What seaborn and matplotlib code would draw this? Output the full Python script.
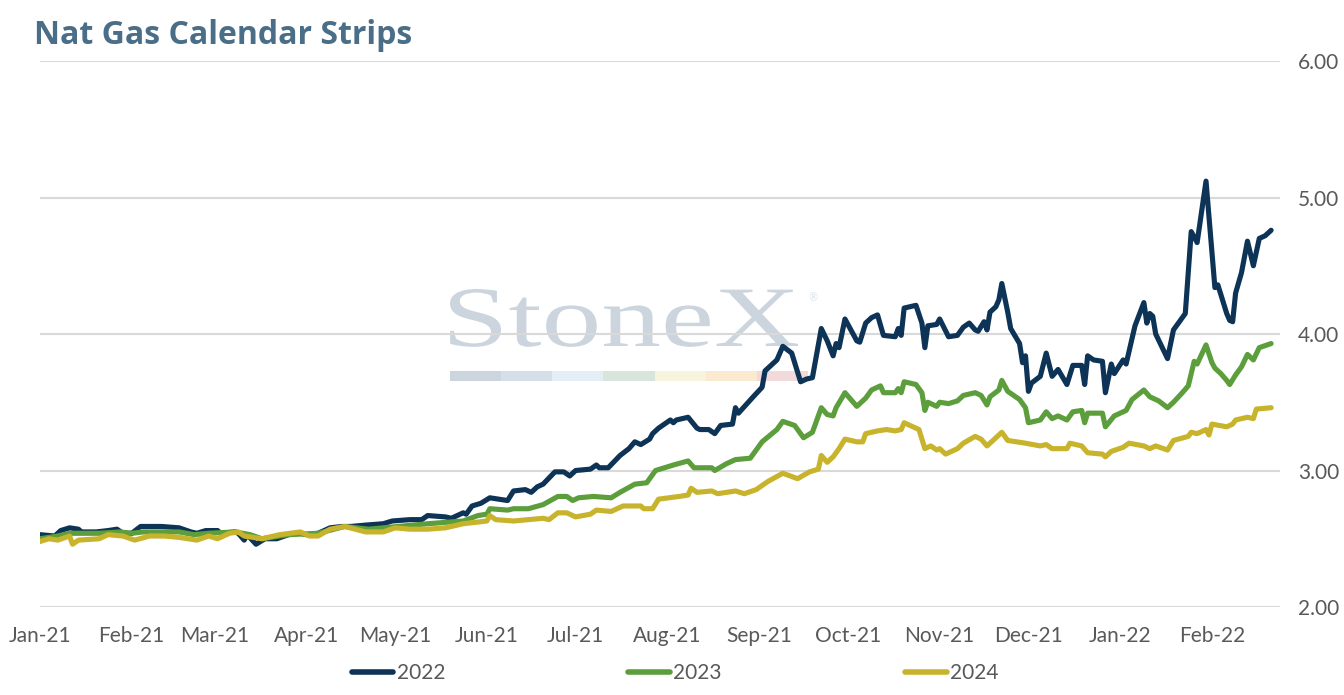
import numpy as np
import pandas as pd
import matplotlib
matplotlib.use("Agg")
import matplotlib.pyplot as plt
import matplotlib.dates as mdates
from matplotlib.patches import Rectangle, PathPatch
from matplotlib.textpath import TextPath
from matplotlib.font_manager import FontProperties
from matplotlib.transforms import Affine2D, IdentityTransform
import seaborn as sns

# ---------------- data (days since 2021-01-01, price $/MMBtu) ----------------
START = "2021-01-01"

days_2022 = [0, 5, 7, 10, 13, 14, 19, 23, 26, 28, 31, 34, 39, 41, 47, 51, 53, 56, 60, 61,
             66, 67, 69, 70, 73, 76, 80, 84, 88, 90, 94, 98, 102, 105, 110, 116, 119, 125,
             129, 131, 137, 139, 143, 144, 146, 149, 152, 158, 160, 164, 166, 168, 170, 174,
             177, 179, 181, 186, 188, 189, 192, 196, 199, 201, 203, 206, 207, 209, 213, 214,
             215, 219, 222, 223, 226, 228, 230, 234, 235, 236, 241, 244, 245, 249, 251, 254,
             257, 259, 261, 264, 266, 268, 269, 270, 272, 276, 277, 279, 281, 283, 285, 289,
             290, 291, 292, 296, 298, 299, 300, 303, 304, 307, 310, 312, 314, 316, 317, 319,
             320, 321, 323, 324, 325, 327, 328, 331, 332, 333, 334, 335, 338, 340, 342, 344,
             347, 349, 352, 353, 354, 356, 359, 360, 362, 363, 366, 367, 370, 373, 374, 375,
             376, 377, 381, 383, 385, 387, 389, 391, 394, 397, 398, 401, 402, 403, 404, 406,
             408, 410, 412, 414, 416]
vals_2022 = [2.53, 2.52, 2.56, 2.58, 2.57, 2.55, 2.55, 2.56, 2.57, 2.54, 2.54, 2.59, 2.59, 2.59,
             2.58, 2.55, 2.54, 2.56, 2.56, 2.54, 2.55, 2.54, 2.49, 2.53, 2.46, 2.50, 2.50, 2.53,
             2.54, 2.53, 2.54, 2.58, 2.59, 2.59, 2.60, 2.61, 2.63, 2.64, 2.64, 2.67, 2.66, 2.65,
             2.69, 2.68, 2.74, 2.76, 2.80, 2.78, 2.85, 2.86, 2.84, 2.88, 2.90, 2.99, 2.99, 2.96,
             3.00, 3.01, 3.04, 3.02, 3.02, 3.11, 3.16, 3.21, 3.19, 3.23, 3.27, 3.31, 3.37, 3.35,
             3.37, 3.39, 3.31, 3.30, 3.30, 3.27, 3.33, 3.34, 3.46, 3.42, 3.54, 3.61, 3.73, 3.81,
             3.91, 3.86, 3.65, 3.67, 3.68, 4.04, 3.95, 3.84, 3.93, 3.90, 4.11, 3.95, 3.94, 4.08,
             4.12, 4.14, 3.99, 3.98, 4.04, 3.99, 4.19, 4.21, 4.08, 3.90, 4.06, 4.07, 4.11, 3.98,
             3.99, 4.05, 4.08, 4.03, 4.02, 4.09, 4.03, 4.16, 4.20, 4.25, 4.37, 4.16, 4.04, 3.93,
             3.79, 3.84, 3.58, 3.64, 3.69, 3.86, 3.69, 3.74, 3.63, 3.77, 3.77, 3.63, 3.84, 3.81,
             3.80, 3.57, 3.78, 3.71, 3.81, 3.78, 4.06, 4.23, 4.08, 4.15, 4.13, 4.00, 3.82, 4.03,
             4.09, 4.15, 4.75, 4.67, 5.12, 4.34, 4.36, 4.15, 4.10, 4.09, 4.30, 4.45, 4.68, 4.50,
             4.70, 4.72, 4.76]

days_2023 = [0, 6, 10, 20, 27, 31, 35, 47, 52, 57, 66, 71, 75, 84, 94, 103, 111, 121, 131,
             137, 143, 148, 151, 152, 158, 160, 165, 170, 175, 178, 180, 182, 187, 193, 196,
             201, 205, 208, 214, 219, 221, 227, 228, 232, 235, 240, 244, 249, 251, 255, 258,
             261, 264, 266, 268, 269, 272, 276, 279, 281, 284, 285, 289, 290, 291, 292, 296,
             298, 299, 300, 303, 304, 307, 310, 312, 316, 318, 320, 321, 324, 325, 327, 331,
             333, 334, 338, 340, 342, 344, 347, 349, 352, 353, 354, 359, 360, 363, 366, 367,
             369, 373, 375, 378, 381, 383, 386, 388, 390, 391, 394, 396, 397, 399, 401, 402,
             404, 406, 408, 410, 412, 416]
vals_2023 = [2.50, 2.52, 2.54, 2.54, 2.55, 2.54, 2.55, 2.55, 2.53, 2.54, 2.55, 2.53, 2.50,
             2.53, 2.54, 2.59, 2.57, 2.59, 2.61, 2.62, 2.63, 2.67, 2.68, 2.72, 2.71, 2.72,
             2.72, 2.75, 2.81, 2.81, 2.78, 2.80, 2.81, 2.80, 2.84, 2.90, 2.91, 3.00, 3.04,
             3.07, 3.02, 3.02, 3.00, 3.05, 3.08, 3.09, 3.21, 3.30, 3.36, 3.33, 3.24, 3.28,
             3.46, 3.41, 3.40, 3.46, 3.57, 3.47, 3.53, 3.59, 3.62, 3.57, 3.57, 3.60, 3.57,
             3.65, 3.63, 3.57, 3.44, 3.50, 3.47, 3.50, 3.49, 3.51, 3.55, 3.57, 3.55, 3.48,
             3.54, 3.59, 3.66, 3.58, 3.52, 3.46, 3.35, 3.37, 3.43, 3.38, 3.40, 3.37, 3.43,
             3.44, 3.35, 3.42, 3.42, 3.32, 3.40, 3.43, 3.44, 3.52, 3.59, 3.54, 3.51, 3.46,
             3.50, 3.57, 3.62, 3.80, 3.78, 3.92, 3.79, 3.75, 3.71, 3.66, 3.63, 3.70, 3.76,
             3.85, 3.81, 3.90, 3.93]

days_2024 = [0, 3, 6, 10, 11, 13, 20, 23, 28, 32, 37, 42, 47, 53, 57, 60, 64, 67, 69, 75,
             81, 88, 91, 94, 98, 103, 110, 116, 120, 125, 131, 137, 143, 151, 152, 154, 160,
             165, 170, 172, 175, 178, 181, 186, 188, 193, 197, 203, 204, 207, 209, 216, 219,
             220, 222, 227, 229, 235, 238, 242, 246, 251, 256, 260, 263, 264, 266, 268, 270,
             272, 276, 278, 279, 283, 286, 289, 291, 292, 295, 297, 299, 301, 303, 304, 306,
             310, 312, 316, 318, 320, 322, 325, 327, 333, 338, 340, 342, 347, 348, 352, 354,
             359, 360, 362, 366, 368, 373, 375, 377, 381, 383, 388, 389, 391, 394, 395, 396,
             401, 403, 404, 408, 410, 411, 416]
vals_2024 = [2.48, 2.50, 2.49, 2.52, 2.46, 2.49, 2.50, 2.53, 2.52, 2.49, 2.52, 2.52, 2.51,
             2.49, 2.52, 2.50, 2.54, 2.55, 2.52, 2.50, 2.53, 2.55, 2.52, 2.52, 2.57, 2.59,
             2.55, 2.55, 2.58, 2.57, 2.57, 2.58, 2.61, 2.63, 2.67, 2.64, 2.63, 2.64, 2.65,
             2.64, 2.69, 2.69, 2.66, 2.68, 2.71, 2.70, 2.74, 2.74, 2.72, 2.72, 2.79, 2.81,
             2.82, 2.87, 2.84, 2.85, 2.83, 2.85, 2.83, 2.86, 2.92, 2.98, 2.94, 2.99, 3.01,
             3.11, 3.06, 3.10, 3.16, 3.23, 3.21, 3.21, 3.27, 3.29, 3.30, 3.29, 3.30, 3.35,
             3.32, 3.30, 3.16, 3.18, 3.15, 3.16, 3.12, 3.16, 3.20, 3.25, 3.23, 3.18, 3.22,
             3.28, 3.22, 3.20, 3.18, 3.19, 3.16, 3.16, 3.20, 3.18, 3.13, 3.12, 3.10, 3.14,
             3.17, 3.20, 3.18, 3.16, 3.18, 3.15, 3.22, 3.25, 3.28, 3.27, 3.30, 3.26, 3.34,
             3.32, 3.34, 3.37, 3.39, 3.38, 3.45, 3.46]

series_names = ["2022", "2023", "2024"]
series_colors = ["#0d3356", "#5c9e3c", "#c8b42c"]
y_ticks = [2.0, 3.0, 4.0, 5.0, 6.0]
title_text = "Nat Gas Calendar Strips"
watermark_text = "StoneX"

# ---------------- build long table ----------------
frames = []
for name, d, v in zip(series_names, [days_2022, days_2023, days_2024],
                      [vals_2022, vals_2023, vals_2024]):
    frames.append(pd.DataFrame({
        "date": pd.Timestamp(START) + pd.to_timedelta(d, unit="D"),
        "value": v,
        "series": name,
    }))
df = pd.concat(frames, ignore_index=True)

# ---------------- style ----------------
sns.set_theme(style="white")
plt.rcParams["font.family"] = ["Lato", "DejaVu Sans"]

W, H = 1344, 695
fig = plt.figure(figsize=(W / 100, H / 100), dpi=100)
ax = fig.add_axes([40 / W, 1 - 607 / H, (1280 - 40) / W, (607 - 61) / H])
ax.patch.set_alpha(0)

# watermark logo (scaled text outline, pixel coordinates of the figure)
tp = TextPath((0, 0), watermark_text, size=100,
              prop=FontProperties(family="Liberation Serif"))
ext = tp.get_extents()
tx0, tx1, ty0, ty1 = 450, 798, H - 346, H - 289
sx = (tx1 - tx0) / ext.width
sy = (ty1 - ty0) / (ext.y1 - 0)
tr = Affine2D().translate(-ext.x0, 0).scale(sx, sy).translate(tx0, ty0)
ax.add_patch(PathPatch(tp, transform=tr + IdentityTransform(), color="#ccd5de",
                       lw=0, zorder=0.1, clip_on=False))
fig.text(813 / W, 1 - 298 / H, "\u00ae", ha="center", va="center", fontsize=8,
         color="#dde3ea")
bar_cols = ["#ccd5de", "#d5dfe9", "#e3eef6", "#d7e5dc", "#f6f4dd", "#fcead0", "#f2dada"]
seg = (808 - 450) / len(bar_cols)
for i, c in enumerate(bar_cols):
    ax.add_patch(Rectangle(((450 + i * seg) / W, 1 - 381 / H), seg / W, 10 / H,
                           transform=fig.transFigure, color=c, lw=0, zorder=0.1))

sns.lineplot(data=df, x="date", y="value", hue="series", hue_order=series_names,
             palette=series_colors, linewidth=3.7, estimator=None, sort=True,
             ax=ax, zorder=3)

ax.set_ylim(2, 6)
ax.set_xlim(pd.Timestamp("2021-01-01"), pd.Timestamp("2022-02-24"))
ax.set_yticks(y_ticks)
ax.yaxis.tick_right()
ax.yaxis.set_major_formatter(matplotlib.ticker.FormatStrFormatter("%.2f"))
ax.xaxis.set_major_locator(mdates.MonthLocator())
ax.xaxis.set_major_formatter(mdates.DateFormatter("%b-%y"))
ax.tick_params(axis="both", length=0, labelsize=15, colors="#595959")
ax.tick_params(axis="y", pad=13)
ax.tick_params(axis="x", pad=14)
for lab in ax.get_yticklabels():
    lab.set_horizontalalignment("left")
ax.grid(axis="y", color="#d9d9d9", linewidth=1.5)
ax.grid(axis="x", visible=False)
ax.set_axisbelow(True)
for s in ax.spines.values():
    s.set_visible(False)
ax.set_xlabel("")
ax.set_ylabel("")

handles, labels = ax.get_legend_handles_labels()
ax.legend_.remove()
leg = fig.legend(handles, labels, loc="center", bbox_to_anchor=(675 / W, 1 - 673 / H),
                 ncol=3, frameon=False, fontsize=15, handlelength=2.0,
                 handletextpad=0.15, columnspacing=8.8)
for t in leg.get_texts():
    t.set_color("#595959")
for l in leg.get_lines():
    l.set_linewidth(4)

fig.text(34 / W, 1 - 36 / H, title_text, ha="left", va="center", fontsize=23,
         fontweight="bold", color="#4a6e88", family=["Open Sans", "DejaVu Sans"])

fig.savefig("out.png", dpi=100)
